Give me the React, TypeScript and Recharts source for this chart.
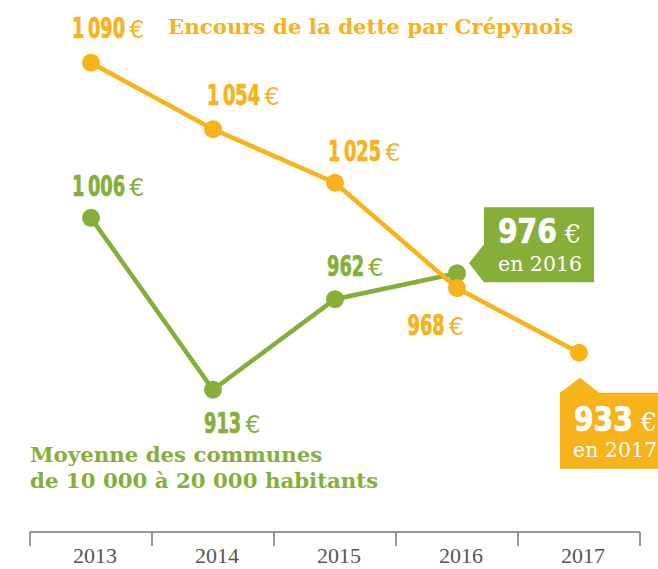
import { LabelList, Line, LineChart, XAxis, YAxis } from "recharts";

const years = ["2013", "2014", "2015", "2016", "2017"];
const crepynois = [1090, 1054, 1025, 968, 933];
const moyenne = [1006, 913, 962, 976, null];

const data = years.map((year, i) => ({ year, crepynois: crepynois[i], moyenne: moyenne[i] }));

const ORANGE = "#F8B21A";
const GREEN = "#86AF3A";
const NUM_FONT = '"DejaVu Sans Condensed", "DejaVu Sans", sans-serif';
const SERIF = '"DejaVu Serif", "Liberation Serif", serif';
const HALF_BAND = 61;

// label placement relative to each dot; "callout" = boxed highlight
const ORANGE_LABELS = [
  { dx: -19, dy: -25, anchor: "start" },
  { dx: -6, dy: -24, anchor: "start" },
  { dx: -7, dy: -22, anchor: "start" },
  { dx: 7, dy: 47, anchor: "end" },
  { callout: "below" },
];
const GREEN_LABELS = [
  { dx: -19, dy: -22, anchor: "start" },
  { dx: -9, dy: 43, anchor: "start" },
  { dx: -8, dy: -23, anchor: "start" },
  { callout: "right" },
];

const fmt = (v: number) =>
  v >= 1000 ? `${Math.floor(v / 1000)}\u2009${String(v % 1000).padStart(3, "0")}` : String(v);

let ctx: CanvasRenderingContext2D | null = null;
function measure(str: string, font: string, fallback: number) {
  if (typeof document === "undefined") return fallback;
  if (!ctx) ctx = document.createElement("canvas").getContext("2d");
  if (!ctx) return fallback;
  ctx.font = font;
  return ctx.measureText(str).width;
}

function Amount({ x, y, value, size, squeeze, euro, euroFont, color, gap = 4, anchor = "start" }: any) {
  const label = fmt(value);
  const numW = measure(label, `bold ${size}px ${NUM_FONT}`, label.length * size * 0.62) * squeeze;
  const euroW = measure("€", `${euro}px ${euroFont}`, euro * 0.64);
  const x0 = anchor === "end" ? x - numW - gap - euroW : x;
  return (
    <g>
      <g transform={`translate(${x0},${y}) scale(${squeeze},1)`}>
        <text
          x={0}
          y={0}
          fill={color}
          stroke={color}
          strokeWidth={0.7}
          fontFamily={NUM_FONT}
          fontWeight="bold"
          fontSize={size}
        >
          {label}
        </text>
      </g>
      <text x={x0 + numW + gap} y={y} fill={color} fontFamily={euroFont} fontSize={euro}>
        €
      </text>
    </g>
  );
}

function makeLabel(layout: any[], color: string, callYear: string) {
  return (props: any) => {
    const { x, y, value, index } = props;
    const cfg = layout[index];
    if (value == null || !cfg) return null;
    if (cfg.callout === "right") {
      const pts = [[27, -66], [137, -66], [137, 9], [27, 9], [12, -10], [27, -29]];
      return (
        <g>
          <polygon points={pts.map(([a, b]) => `${x + a},${y + b}`).join(" ")} fill={color} />
          <Amount x={x + 41} y={y - 30} value={value} size={33} squeeze={0.95} euro={26} euroFont={SERIF} gap={8} color="#fff" />
          <text x={x + 41} y={y - 2} fill="#fff" fontFamily={SERIF} fontSize={20.5}>en {callYear}</text>
        </g>
      );
    }
    if (cfg.callout === "below") {
      const pts = [[-19, 40], [1, 25], [20, 40], [90, 40], [90, 116], [-19, 116]];
      return (
        <g>
          <polygon points={pts.map(([a, b]) => `${x + a},${y + b}`).join(" ")} fill={color} />
          <Amount x={x - 5} y={y + 78} value={value} size={33} squeeze={0.95} euro={26} euroFont={SERIF} gap={8} color="#fff" />
          <text x={x - 6} y={y + 104} fill="#fff" fontFamily={SERIF} fontSize={20.5}>en {callYear}</text>
        </g>
      );
    }
    return (
      <Amount
        x={x + cfg.dx}
        y={y + cfg.dy}
        value={value}
        size={27.5}
        squeeze={0.72}
        euro={24}
        euroFont='"DejaVu Sans", sans-serif'
        color={color}
        anchor={cfg.anchor}
      />
    );
  };
}

function YearTick(props: any) {
  const { x, y, payload, index, visibleTicksCount } = props;
  return (
    <g>
      <line x1={x - HALF_BAND} x2={x - HALF_BAND} y1={y} y2={y + 14} stroke="#777" strokeWidth={1.5} />
      {index === visibleTicksCount - 1 && (
        <line x1={x + HALF_BAND} x2={x + HALF_BAND} y1={y} y2={y + 14} stroke="#777" strokeWidth={1.5} />
      )}
      <text
        x={x + 4}
        y={y + 31}
        textAnchor="middle"
        fill="#555"
        fontFamily='"Liberation Serif", serif'
        fontSize={22}
      >
        {payload.value}
      </text>
    </g>
  );
}

export default function App() {
  return (
    <div style={{ position: "absolute", left: 0, top: 0, width: 658, height: 569, background: "#fff" }}>
      <LineChart width={658} height={569} data={data} margin={{ top: 22, right: 18, left: 30, bottom: 0 }}>
        <XAxis
          dataKey="year"
          height={37}
          padding={{ left: HALF_BAND, right: HALF_BAND }}
          tickSize={0}
          tickMargin={0}
          tickLine={false}
          axisLine={{ stroke: "#777", strokeWidth: 1.5 }}
          tick={<YearTick />}
          interval={0}
        />
        <YAxis hide domain={[836, 1112]} />
        <Line
          dataKey="moyenne"
          stroke={GREEN}
          strokeWidth={4.5}
          dot={{ r: 9, fill: GREEN, stroke: "none" }}
          activeDot={false}
          isAnimationActive={false}
        >
          <LabelList dataKey="moyenne" content={makeLabel(GREEN_LABELS, GREEN, "2016")} />
        </Line>
        <Line
          dataKey="crepynois"
          stroke={ORANGE}
          strokeWidth={4.5}
          dot={{ r: 9, fill: ORANGE, stroke: "none" }}
          activeDot={false}
          isAnimationActive={false}
        >
          <LabelList dataKey="crepynois" content={makeLabel(ORANGE_LABELS, ORANGE, "2017")} />
        </Line>
      </LineChart>
      <div
        style={{
          position: "absolute", left: 168, top: 14, color: ORANGE, fontFamily: SERIF,
          fontWeight: "bold", fontSize: 21.3, lineHeight: "26px", whiteSpace: "nowrap",
        }}
      >
        Encours de la dette par Crépynois
      </div>
      <div
        style={{
          position: "absolute", left: 30, top: 442, color: GREEN, fontFamily: SERIF,
          fontWeight: "bold", fontSize: 21.3, lineHeight: "26px", whiteSpace: "nowrap",
        }}
      >
        Moyenne des communes
        <br />
        de 10 000 à 20 000 habitants
      </div>
    </div>
  );
}
